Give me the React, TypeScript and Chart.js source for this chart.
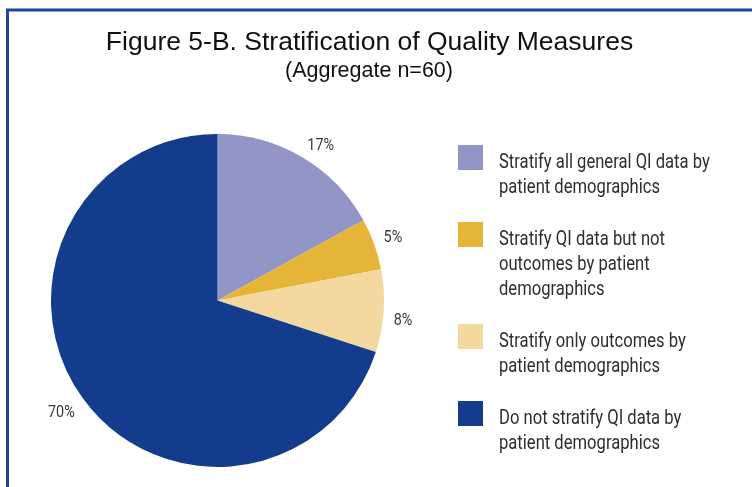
import React, { useEffect, useRef } from "react";
import { Chart, registerables } from "chart.js";

Chart.register(...registerables);

const categories = [
  "Stratify all general QI data by patient demographics",
  "Stratify QI data but not outcomes by patient demographics",
  "Stratify only outcomes by patient demographics",
  "Do not stratify QI data by patient demographics",
];
const legendLines = [
  ["Stratify all general QI data by", "patient demographics"],
  ["Stratify QI data but not", "outcomes by patient", "demographics"],
  ["Stratify only outcomes by", "patient demographics"],
  ["Do not stratify QI data by", "patient demographics"],
];
const values = [17, 5, 8, 70];
const sliceColors = ["#9196C6", "#E6B437", "#F3D89F", "#143C8C"];
const titleText = "Figure 5-B. Stratification of Quality Measures";
const subtitleText = "(Aggregate n=60)";

const NARROW = '"Roboto", "Liberation Sans", sans-serif';
const SANS = '"Liberation Sans", Arial, Helvetica, sans-serif';

function narrowText(ctx: any, text: string, x: number, y: number, sx: number) {
  ctx.save();
  ctx.translate(x, y);
  ctx.scale(sx, 1);
  ctx.fillText(text, 0, 0);
  ctx.restore();
}

const decorPlugin = {
  id: "decor",
  beforeDraw(chart: any) {
    const ctx = chart.ctx;
    ctx.save();
    ctx.fillStyle = "#ffffff";
    ctx.fillRect(0, 0, chart.width, chart.height);
    ctx.strokeStyle = "#1E4599";
    ctx.lineWidth = 3;
    ctx.beginPath();
    ctx.moveTo(7.5, chart.height + 5);
    ctx.lineTo(7.5, 10);
    ctx.lineTo(chart.width + 5, 10);
    ctx.stroke();
    ctx.restore();
  },
  afterDraw(chart: any) {
    const ctx = chart.ctx;
    ctx.save();
    // titles
    ctx.fillStyle = "#111111";
    ctx.textAlign = "center";
    ctx.textBaseline = "alphabetic";
    ctx.font = `26.5px ${SANS}`;
    ctx.fillText(titleText, 369.5, 50);
    ctx.font = `21.5px ${SANS}`;
    ctx.fillText(subtitleText, 369, 77);

    // percent labels
    const meta = chart.getDatasetMeta(0);
    const total = values.reduce((a, b) => a + b, 0);
    const lsx = 0.9;
    ctx.font = `16px ${NARROW}`;
    ctx.fillStyle = "#3a3a3a";
    ctx.textBaseline = "middle";
    meta.data.forEach((arc: any, i: number) => {
      const p = arc.getProps(["x", "y", "startAngle", "endAngle", "outerRadius"], true);
      const mid = (p.startAngle + p.endAngle) / 2;
      const r = p.outerRadius + 10;
      const pct = Math.round((values[i] / total) * 100) + "%";
      const hw = (ctx.measureText(pct).width * lsx) / 2;
      const hh = 6;
      const c = Math.cos(mid);
      const s = Math.sin(mid);
      const cx = p.x + c * r + Math.sign(c) * hw;
      const cy = p.y + s * r + Math.sign(s) * hh + 3;
      narrowText(ctx, pct, cx, cy, lsx);
    });

    // legend
    ctx.textAlign = "left";
    ctx.textBaseline = "alphabetic";
    ctx.font = `20.5px ${NARROW}`;
    const sx = 0.81;
    let y = 168;
    legendLines.forEach((lines, i) => {
      ctx.fillStyle = sliceColors[i];
      ctx.fillRect(458, y - 23, 25, 25);
      ctx.fillStyle = "#2e2e2e";
      lines.forEach((ln, j) => {
        narrowText(ctx, ln, 499, y + j * 25, sx);
      });
      y += lines.length * 25 + 27;
    });
    ctx.restore();
  },
};

export default function App() {
  const ref = useRef<HTMLCanvasElement>(null);
  useEffect(() => {
    if (!ref.current) return;
    const chart = new Chart(ref.current, {
      type: "pie",
      data: {
        labels: categories,
        datasets: [
          {
            data: values,
            backgroundColor: sliceColors,
            borderWidth: 0,
          },
        ],
      },
      options: {
        responsive: false,
        animation: false,
        layout: { padding: { left: 51, right: 368, top: 134, bottom: 20 } },
        plugins: {
          legend: { display: false },
          title: { display: false },
          tooltip: { enabled: false },
        },
      },
      plugins: [decorPlugin],
    });
    return () => chart.destroy();
  }, []);
  return (
    <div style={{ position: "fixed", left: 0, top: 0, width: 752, height: 487, background: "#fff" }}>
      <canvas ref={ref} width={752} height={487} style={{ display: "block" }} />
    </div>
  );
}
